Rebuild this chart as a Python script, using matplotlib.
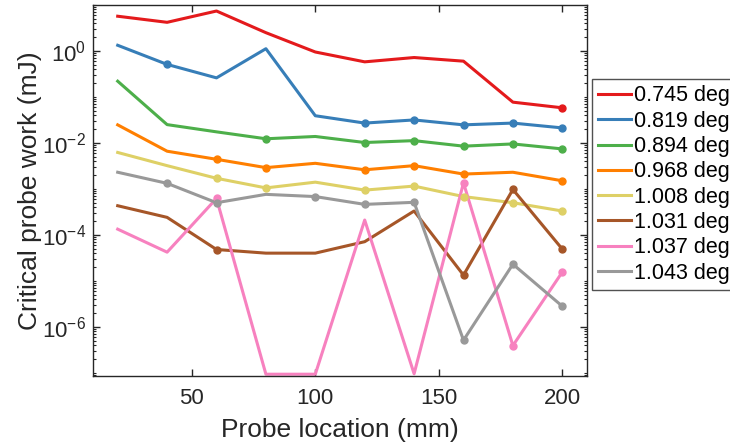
import numpy as np
import matplotlib
matplotlib.use("Agg")
import matplotlib.pyplot as plt
from matplotlib.ticker import LogLocator, FixedLocator, NullFormatter

plt.rcParams['font.family'] = ['Liberation Sans', 'DejaVu Sans']
plt.rcParams['mathtext.fontset'] = 'custom'
plt.rcParams['mathtext.rm'] = 'Liberation Sans'
plt.rcParams['mathtext.it'] = 'Liberation Sans:italic'
plt.rcParams['mathtext.bf'] = 'Liberation Sans:bold'

x = [20, 40, 60, 80, 100, 120, 140, 160, 180, 200]

labels = ['0.745 deg', '0.819 deg', '0.894 deg', '0.968 deg',
          '1.008 deg', '1.031 deg', '1.037 deg', '1.043 deg']

w_0745 = [5.7, 4.2, 7.4, 2.5, 0.95, 0.58, 0.72, 0.60, 0.077, 0.058]
w_0819 = [1.33, 0.51, 0.26, 1.12, 0.039, 0.027, 0.0316, 0.0247, 0.027, 0.0212]
w_0894 = [0.22, 0.025, 0.0174, 0.0123, 0.0138, 0.0102, 0.0112, 0.0085, 0.0095, 0.0074]
w_0968 = [0.0247, 0.0066, 0.0044, 0.0029, 0.0036, 0.0026, 0.0032, 0.0021, 0.0023, 0.0015]
w_1008 = [0.0062, 0.0032, 0.0017, 0.00105, 0.0014, 0.00094, 0.00115, 0.00068, 0.0005, 0.00033]
w_1031 = [0.00043, 0.00024, 4.8e-5, 4.0e-5, 4.0e-5, 7.1e-5, 0.00033, 1.33e-5, 0.00097, 4.9e-5]
w_1037 = [1.33e-4, 4.2e-5, 6.2e-4, 9.3e-8, 9.3e-8, 2.1e-4, 9.5e-8, 0.00135, 3.9e-7, 1.55e-5]
w_1043 = [0.0023, 0.00132, 0.0005, 0.00076, 0.00068, 0.00046, 0.00051, 5.1e-7, 2.3e-5, 2.8e-6]

# marker flags (1 = point drawn with a dot)
m_0745 = [0, 0, 0, 0, 0, 0, 0, 0, 0, 1]
m_0819 = [0, 1, 0, 0, 0, 1, 1, 1, 1, 1]
m_0894 = [0, 0, 0, 1, 0, 1, 1, 1, 1, 1]
m_0968 = [0, 0, 1, 1, 0, 1, 1, 1, 0, 1]
m_1008 = [0, 0, 1, 1, 0, 1, 1, 1, 1, 1]
m_1031 = [0, 0, 1, 0, 0, 0, 0, 1, 1, 1]
m_1037 = [0, 0, 1, 0, 0, 0, 0, 1, 1, 1]
m_1043 = [0, 1, 1, 0, 1, 1, 1, 1, 1, 1]

series = [w_0745, w_0819, w_0894, w_0968, w_1008, w_1031, w_1037, w_1043]
marks = [m_0745, m_0819, m_0894, m_0968, m_1008, m_1031, m_1037, m_1043]
colors = ['#e41a1c', '#377eb8', '#4daf4a', '#ff7f00',
          '#ded066', '#a65628', '#f781bf', '#999999']

fig = plt.figure(figsize=(7.30, 4.47), dpi=100)
ax = fig.add_axes([93/730, 1 - 376/447, (587-93)/730, (376-5)/447])

for ys, ms, c, lab in zip(series, marks, colors, labels):
    xa = np.array(x)
    ya = np.array(ys)
    ma = np.array(ms, dtype=bool)
    ax.plot(xa, ya, color=c, lw=2.2, label=lab, zorder=2)
    ax.plot(xa[ma], ya[ma], 'o', color=c, ms=5, zorder=3)

ax.set_yscale('log')
ax.set_xlim(10, 210)
ax.set_ylim(8.5e-8, 10)
ax.xaxis.set_major_locator(FixedLocator([50, 100, 150, 200]))
ax.yaxis.set_major_locator(FixedLocator([1e-6, 1e-4, 1e-2, 1e0]))
ax.yaxis.set_minor_locator(LogLocator(base=10, subs=np.arange(1, 10), numticks=100))
ax.yaxis.set_minor_formatter(NullFormatter())

ax.tick_params(which='both', direction='in', top=True, right=True,
               colors='#262626', labelsize=16)
ax.tick_params(which='major', length=5, width=1)
ax.tick_params(which='minor', length=2.5, width=0.8)
ax.tick_params(axis='x', pad=9)
ax.tick_params(axis='y', pad=5)
for s in ax.spines.values():
    s.set_color('#262626')
    s.set_linewidth(1)

ax.set_xlabel('Probe location (mm)', fontsize=19, color='#262626', labelpad=6)
ax.set_ylabel('Critical probe work (mJ)', fontsize=19, color='#262626', labelpad=0)

leg = ax.legend(loc='upper left', bbox_to_anchor=(592/730, 1 - 79/447),
                bbox_transform=fig.transFigure, fontsize=15.5, frameon=True,
                fancybox=False, edgecolor='#262626', handlelength=1.5,
                handletextpad=0.15, borderpad=0.3, labelspacing=0.2,
                borderaxespad=0)
leg.get_frame().set_linewidth(1)

fig.savefig('out.png', dpi=100)
